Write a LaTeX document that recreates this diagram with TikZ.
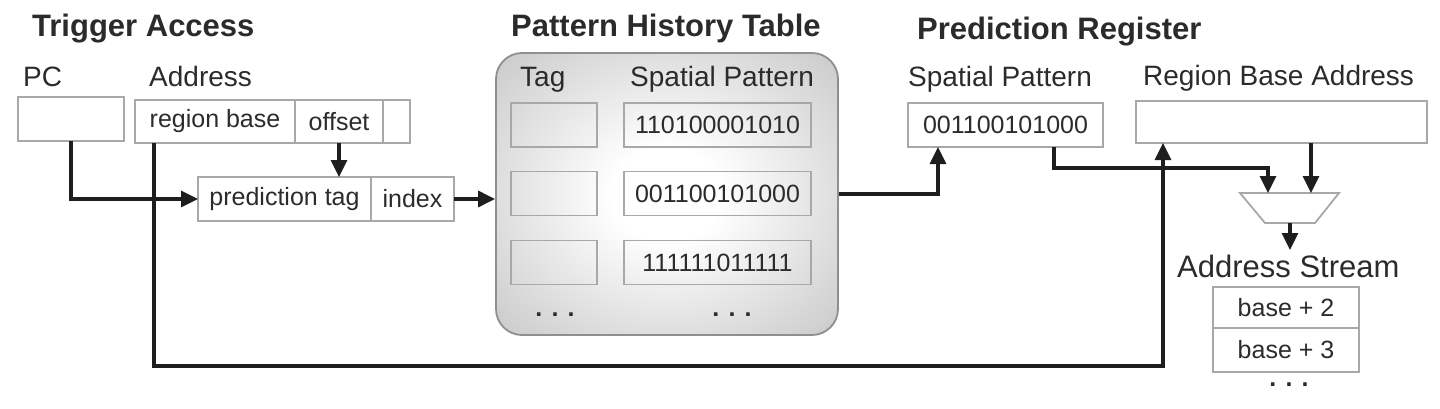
\documentclass[tikz,border=0pt]{standalone}
\usepackage{fontspec}
\setmainfont{Liberation Sans}
\usetikzlibrary{arrows.meta,positioning}
\definecolor{boxgray}{HTML}{A8A8A8}
\definecolor{txtgray}{HTML}{2B2B2B}
\definecolor{linegray}{HTML}{1E1E1E}
\pgfdeclareradialshading{phtshade}{\pgfpoint{0bp}{0bp}}{color(0bp)=(white); color(8bp)=(white); color(50bp)=(black!32); color(72bp)=(black!38)}

\begin{document}
\begin{tikzpicture}[x=1pt, y=-1pt,
	headtxt/.style={anchor=base west, inner sep=0, font=\fontsize{31}{36}\selectfont\bfseries, text=txtgray},
	lbltxt/.style={anchor=base west, inner sep=0, font=\fontsize{28}{32}\selectfont, text=txtgray},
	cell/.style={draw=boxgray, line width=1.8pt, inner sep=0, outer sep=0, minimum height=44pt, font=\fontsize{25}{30}\selectfont, text=txtgray},
	dots/.style={inner sep=0, font=\fontsize{25}{30}\selectfont\bfseries, text=txtgray},
	flow/.style={draw=linegray, line width=3.2pt, -{Triangle[length=17pt,width=16pt]}}]
	\useasboundingbox (0,0) rectangle (1440,409);

	\node[headtxt] (trig) at (32,37) {Trigger Access};
	\node[lbltxt] (pclbl) at (23,87) {PC};
	\node[lbltxt] (addrlbl) at (149,87) {Address};
	\node[cell, minimum width=106pt] (pc) at (71,119) {};
	\node[cell, minimum width=160pt, minimum height=43pt] (rb) at (215,121.5) {region base};
	\node[cell, minimum width=88pt, minimum height=43pt, right=0pt of rb] (off) {offset};
	\node[cell, minimum width=27pt, minimum height=43pt, right=0pt of off] (emp) {};
	\node[cell, minimum width=173pt] (ptag) at (284.5,199) {prediction tag};
	\node[cell, minimum width=83pt, right=0pt of ptag] (idx) {index};

	\node[headtxt] (phtlbl) at (511,37) {Pattern History Table};
	\node[draw=boxgray!85!black, line width=1.8pt, rounded corners=26pt, shade, shading=phtshade, minimum width=342pt, minimum height=282pt, inner sep=0] (pht) at (667,194) {};
	\node[lbltxt] (taghd) at (520,87) {Tag};
	\node[lbltxt] (pathd) at (630,87) {Spatial Pattern};
	\node[cell, minimum width=86pt] (tag1) at (554,125) {};
	\node[cell, minimum width=187pt] (pat1) at (717.5,125) {110100001010};
	\node[cell, minimum width=86pt] (tag2) at (554,193.5) {};
	\node[cell, minimum width=187pt] (pat2) at (717.5,193.5) {001100101000};
	\node[cell, minimum width=86pt] (tag3) at (554,262.5) {};
	\node[cell, minimum width=187pt] (pat3) at (717.5,262.5) {111111011111};
	\node[dots] (tagdots) at (555,315) {. . .};
	\node[dots] (patdots) at (732,315) {. . .};

	\node[headtxt] (prlbl) at (917,40) {Prediction Register};
	\node[lbltxt] (splbl) at (908,87) {Spatial Pattern};
	\node[lbltxt] (rbalbl) at (1143,86) {Region Base Address};
	\node[cell, minimum width=195pt] (sp) at (1005.5,125) {001100101000};
	\node[cell, minimum width=291pt, minimum height=42pt] (rba) at (1281.5,122) {};

	\draw[draw=boxgray, line width=1.8pt] (1240,193) -- (1339,193) -- (1315,223) -- (1265,223) -- cycle;
	\coordinate (addinL) at (1268,193);
	\coordinate (addinR) at (1311,193);
	\coordinate (addout) at (1290,223);

	\node[lbltxt, font=\fontsize{31}{36}\selectfont] (aslbl) at (1177,277) {Address Stream};
	\node[cell, minimum width=146pt, minimum height=41pt] (as1) at (1286,307.5) {base + 2};
	\node[cell, minimum width=146pt, below=0pt of as1] (as2) {base + 3};
	\node[dots] (asdots) at (1289,385) {. . .};

	\coordinate (rbtap) at ([xshift=19pt]rb.south west);
	\coordinate (rbain) at ([xshift=27pt]rba.south west);
	\coordinate (spin) at ([xshift=30pt]sp.south west);
	\coordinate (spout) at ([xshift=146pt]sp.south west);

	\draw[flow] (pc.south) |- (ptag.west);
	\draw[flow] (off.south) -- (off.south |- ptag.north);
	\draw[flow] (idx.east) -- (idx.east -| pht.west);
	\draw[flow] (rbtap) -- ++(0,223) -| (rbain);
	\draw[flow] (pht.east) -| (spin);
	\draw[flow] (spout) -- ++(0,21) -| (addinL);
	\draw[flow] (rba.south -| addinR) -- (addinR);
	\draw[flow] (addout) -- ++(0,27);
\end{tikzpicture}
\end{document}
